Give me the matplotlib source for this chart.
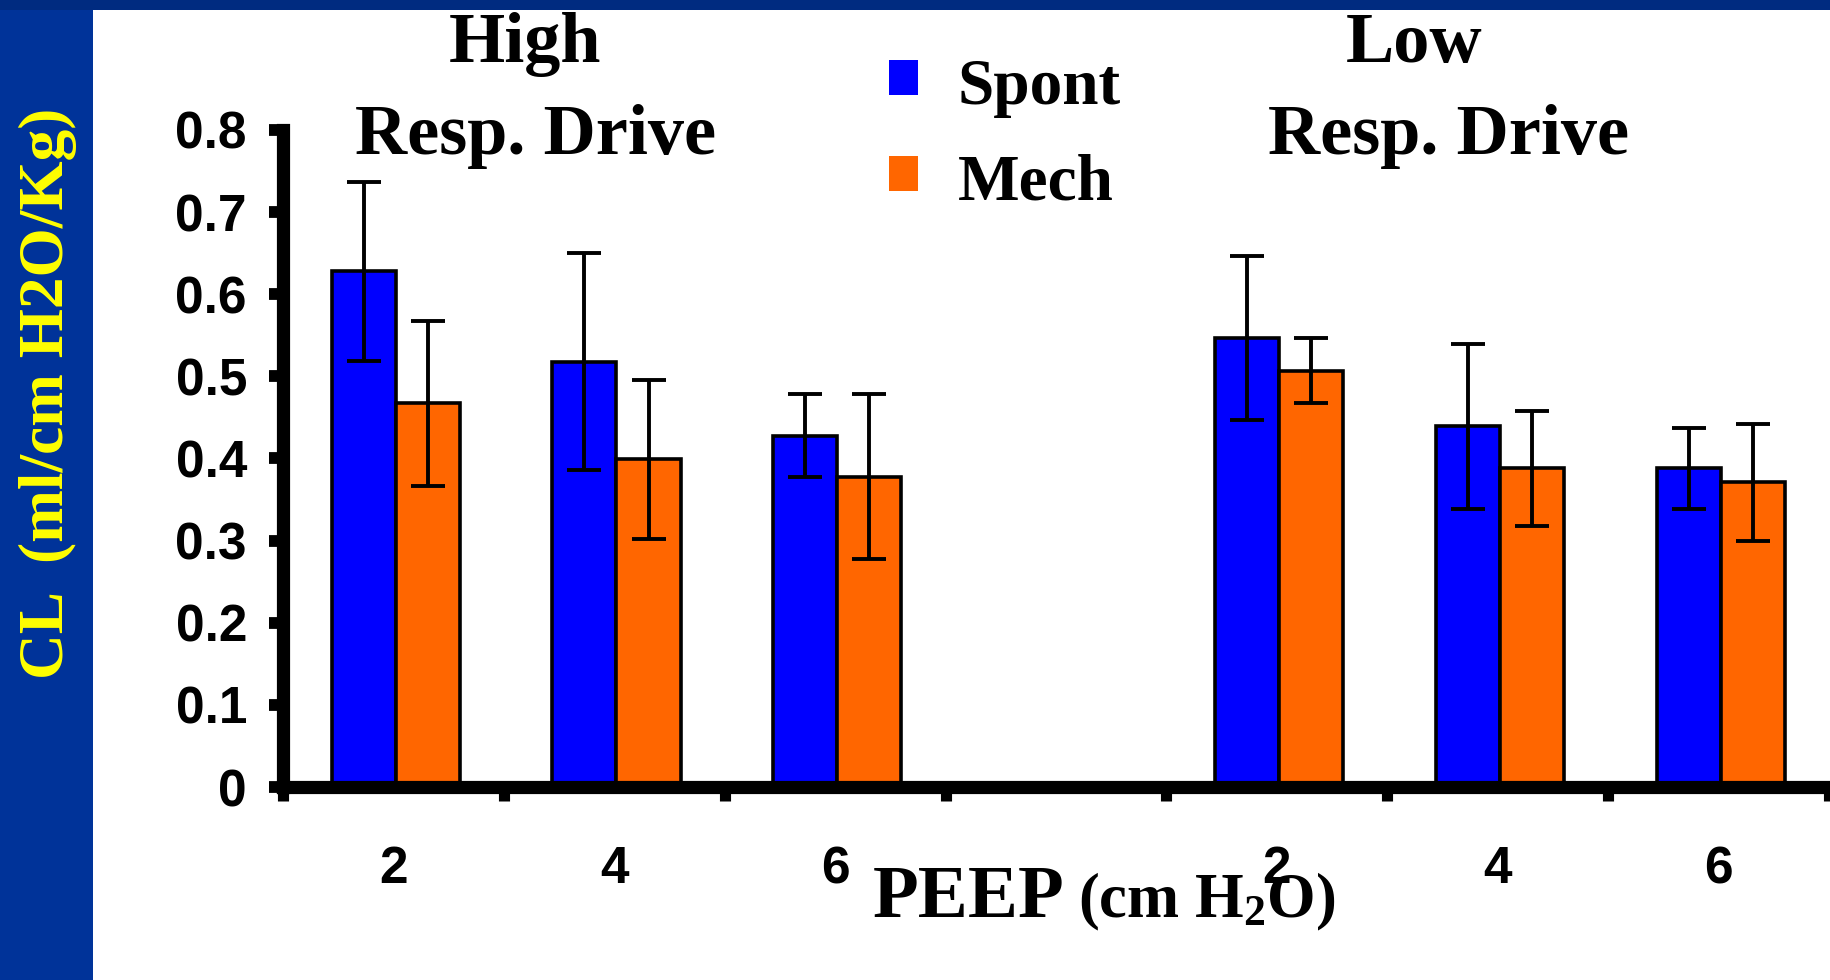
import matplotlib
matplotlib.use("Agg")
import matplotlib.pyplot as plt
from matplotlib.patches import Rectangle, Patch
from matplotlib.legend_handler import HandlerPatch
import numpy as np

# ---- data ----
peep_labels = ['2', '4', '6', '2', '4', '6']
slots = [0, 1, 2, 4, 5, 6]          # slot 3 left empty between groups
spont = [0.628, 0.518, 0.428, 0.547, 0.439, 0.388]
spont_err = [0.109, 0.132, 0.051, 0.100, 0.100, 0.049]
mech = [0.467, 0.399, 0.378, 0.507, 0.388, 0.371]
mech_err = [0.100, 0.097, 0.100, 0.040, 0.070, 0.071]
series_names = ['Spont', 'Mech']
y_ticks = [0, 0.1, 0.2, 0.3, 0.4, 0.5, 0.6, 0.7, 0.8]
y_tick_labels = ['0', '0.1', '0.2', '0.3', '0.4', '0.5', '0.6', '0.7', '0.8']

BLUE = '#0000FF'
ORANGE = '#FF6600'
SERIF = 'Liberation Serif'
SANS = 'Liberation Sans'

plt.rcParams['mathtext.fontset'] = 'custom'
plt.rcParams['mathtext.rm'] = 'Liberation Serif:bold'
plt.rcParams['mathtext.it'] = 'Liberation Serif:bold'
plt.rcParams['mathtext.bf'] = 'Liberation Serif:bold'

W, H = 1831, 980
fig = plt.figure(figsize=(W / 100, H / 100), dpi=100)
fig.patch.set_facecolor('white')

# decorative slide background
fig.patches.append(Rectangle((0, 0), 93 / W, 1, transform=fig.transFigure,
                             facecolor='#003399', edgecolor='none', zorder=0))
fig.patches.append(Rectangle((0, 1 - 10 / H), 1, 10 / H, transform=fig.transFigure,
                             facecolor='#002B80', edgecolor='none', zorder=0))

ax = fig.add_axes([283 / W, (H - 787) / H, (1829 - 283) / W, (787 - 130) / H])
ax.set_facecolor('none')

x = np.array(slots, dtype=float) + 0.01
bw = 0.29
ax.bar(x - bw / 2, spont, bw, color=BLUE, edgecolor='black', linewidth=2.6, zorder=2)
ax.bar(x + bw / 2, mech, bw, color=ORANGE, edgecolor='black', linewidth=2.6, zorder=2)
ax.errorbar(x - bw / 2, spont, yerr=spont_err, fmt='none', ecolor='black',
            elinewidth=2.8, capsize=12, capthick=2.8, zorder=3)
ax.errorbar(x + bw / 2, mech, yerr=mech_err, fmt='none', ecolor='black',
            elinewidth=2.8, capsize=12, capthick=2.8, zorder=3)

ax.set_xlim(-0.5, 6.5)
ax.set_ylim(0, 0.8)

for s in ['top', 'right']:
    ax.spines[s].set_visible(False)
for s in ['left', 'bottom']:
    ax.spines[s].set_linewidth(9.5)
    ax.spines[s].set_color('black')

ax.set_yticks(y_ticks)
ax.set_yticklabels(y_tick_labels, fontfamily=SANS, fontweight='bold', fontsize=37)
ax.tick_params(axis='y', direction='out', length=10, width=8.5, pad=16)

ax.set_xticks(slots)
ax.set_xticklabels(peep_labels, fontfamily=SANS, fontweight='bold', fontsize=37)
ax.set_xticks(np.arange(-0.5, 7.0, 1.0), minor=True)
ax.tick_params(axis='x', which='major', length=0, pad=42)
ax.tick_params(axis='x', which='minor', direction='out', length=10, width=8)

# group titles
fig.text(525 / W, 1 - 62 / H, 'High', ha='center', va='baseline',
         fontfamily=SERIF, fontweight='bold', fontsize=52)
fig.text(536 / W, 1 - 154 / H, 'Resp. Drive', ha='center', va='baseline',
         fontfamily=SERIF, fontweight='bold', fontsize=52)
fig.text(1414 / W, 1 - 62 / H, 'Low', ha='center', va='baseline',
         fontfamily=SERIF, fontweight='bold', fontsize=52)
fig.text(1449 / W, 1 - 154 / H, 'Resp. Drive', ha='center', va='baseline',
         fontfamily=SERIF, fontweight='bold', fontsize=52)


# legend (square markers sit slightly above the text centre)
def raised_square(legend, orig_handle, xdescent, ydescent, width, height, fontsize):
    return Rectangle((-xdescent, -ydescent + 0.1 * height), width, height)


handles = [Patch(facecolor=BLUE, edgecolor='none'),
           Patch(facecolor=ORANGE, edgecolor='none')]
leg = fig.legend(handles, series_names, loc='upper left',
                 bbox_to_anchor=(889 / W, 1 - 58 / H), frameon=False,
                 prop={'family': SERIF, 'weight': 'bold', 'size': 47},
                 handlelength=0.45, handleheight=0.45, handletextpad=0.6,
                 labelspacing=0.55, borderpad=0, borderaxespad=0,
                 handler_map={Patch: HandlerPatch(patch_func=raised_square)})

# axis labels
fig.text(873 / W, 1 - 917 / H, 'PEEP', ha='left', va='baseline',
         fontfamily=SERIF, fontweight='bold', fontsize=54)
fig.text(1078 / W, 1 - 917 / H, r'(cm H$_2$O)', ha='left', va='baseline',
         fontfamily=SERIF, fontweight='bold', fontsize=45)

fig.text(48 / W, 1 - 393 / H, 'CL  (ml/cm H2O/Kg)', rotation=90,
         ha='center', va='center', color='#FFFF00',
         fontfamily=SERIF, fontweight='bold', fontsize=45.5)

fig.savefig('out.png', dpi=100, facecolor=fig.get_facecolor())
